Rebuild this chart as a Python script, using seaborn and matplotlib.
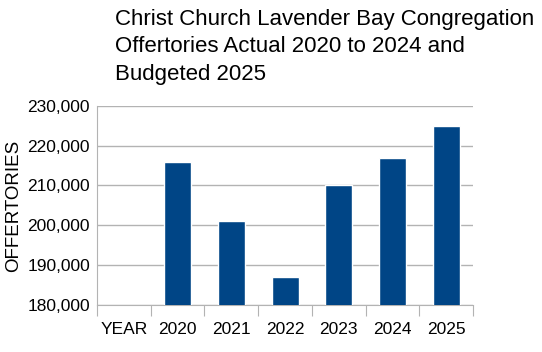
import pandas as pd
import seaborn as sns
import matplotlib.pyplot as plt
from matplotlib.ticker import FuncFormatter, FixedLocator

# chart data
categories = ["YEAR", "2020", "2021", "2022", "2023", "2024", "2025"]
years = ["2020", "2021", "2022", "2023", "2024", "2025"]
offertories = [216000, 201000, 187000, 210000, 217000, 225000]
y_ticks = [180000, 190000, 200000, 210000, 220000, 230000]

df = pd.DataFrame({"Year": years, "Offertories": offertories})

sns.set_style("white")
plt.rcParams['font.family'] = ['Liberation Sans', 'DejaVu Sans']
plt.rcParams['text.color'] = 'black'
plt.rcParams['axes.labelcolor'] = 'black'
plt.rcParams['xtick.color'] = 'black'
plt.rcParams['ytick.color'] = 'black'

fig = plt.figure(figsize=(5.42, 3.52), dpi=100)
ax = fig.add_axes([0.179, 0.1335, 0.694, 0.566])

sns.barplot(data=df, x="Year", y="Offertories", order=categories,
            color="#004586", saturation=1, width=0.5, ax=ax, zorder=3)

ax.set_ylim(180000, 230000)
ax.set_xlim(-0.5, len(categories) - 0.5)
ax.yaxis.set_major_locator(FixedLocator(y_ticks))
ax.yaxis.set_major_formatter(FuncFormatter(lambda v, p: f"{int(v):,}"))
ax.grid(axis="y", color="#b3b3b3", linewidth=1, zorder=0)
ax.set_axisbelow(True)

for s in ["top", "right"]:
    ax.spines[s].set_visible(False)
ax.spines["left"].set_color("#b3b3b3")
ax.spines["bottom"].set_color("#b3b3b3")

# ticks at category boundaries on x, labels centred under bars
ax.set_xticks([i - 0.5 for i in range(len(categories) + 1)], minor=False)
ax.set_xticklabels([])
ax.set_xticks(range(len(categories)), minor=True)
ax.set_xticklabels(categories, minor=True, fontsize=12.5)
ax.tick_params(axis="x", which="major", length=8, color="#b3b3b3", bottom=True)
ax.tick_params(axis="x", which="minor", length=0, pad=12)
ax.tick_params(axis="y", length=0, labelsize=12.5, pad=5)

ax.set_xlabel("")
ax.set_ylabel("OFFERTORIES", fontsize=13.5)
ax.yaxis.set_label_coords(-0.2, 0.5)

fig.text(0.212, 0.975, "Christ Church Lavender Bay Congregation\nOffertories Actual 2020 to 2024 and\nBudgeted 2025",
         ha="left", va="top", fontsize=16, linespacing=1.4)

plt.savefig("out.png", dpi=100)
